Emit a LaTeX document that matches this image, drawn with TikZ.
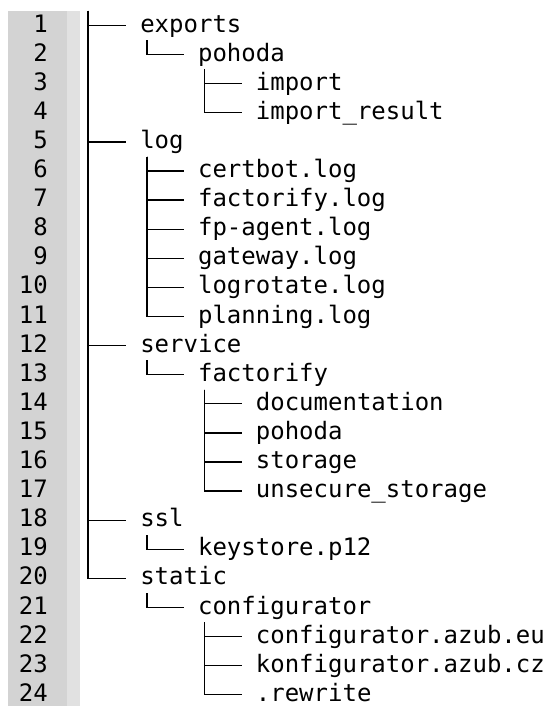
\documentclass[tikz,border=0pt]{standalone}
\usepackage{fontspec}
\setmonofont{DejaVu Sans Mono}
\usetikzlibrary{positioning}
\definecolor{gutter}{HTML}{D3D3D3}
\definecolor{gutterlight}{HTML}{E1E1E1}
\tikzset{entry/.style={anchor=west, inner xsep=10.5pt, inner ysep=0pt, text height=15.8pt, text depth=6pt, font=\ttfamily\fontsize{18}{22}\selectfont},
  lnum/.style={anchor=east, inner sep=0pt, text height=15.8pt, text depth=6pt, font=\ttfamily\fontsize{18}{22}\selectfont},
  branch/.style={draw, line width=1pt}}
\newcommand\subtree[2]{\foreach \c in {#2} \draw[branch] ([xshift=15.75pt]#1.south west) |- (\c.west);}

\begin{document}
\begin{tikzpicture}[x=0.75pt, y=-0.75pt]
\useasboundingbox (0,0) rectangle (549,706);
\fill[gutter] (8,11) rectangle (67,706);
\fill[gutterlight] (67,11) rectangle (80,706);
% line numbers
\foreach \n in {1,...,24}
  \node[lnum] (num\n) at (48, {25.5+29.1*(\n-1)}) {\n};
% tree entries: row/level/name/text
\foreach \n/\lev/\nm/\txt in {1/1/exports/exports, 2/2/pohoda/pohoda, 3/3/import/import, 4/3/importresult/import\_result,
  5/1/log/log, 6/2/certbot/certbot.log, 7/2/factorifylog/factorify.log, 8/2/fpagent/fp-agent.log,
  9/2/gateway/gateway.log, 10/2/logrotate/logrotate.log, 11/2/planning/planning.log,
  12/1/service/service, 13/2/factorify/factorify, 14/3/documentation/documentation, 15/3/pohodasrv/pohoda,
  16/3/storage/storage, 17/3/unsecure/unsecure\_storage,
  18/1/ssl/ssl, 19/2/keystore/keystore.p12,
  20/1/static/static, 21/2/configurator/configurator, 22/3/cfgeu/configurator.azub.eu,
  23/3/cfgcz/konfigurator.azub.cz, 24/3/rewrite/.rewrite}
  \node[entry] (\nm) at ({126+57.8*(\lev-1)}, {25.5+29.1*(\n-1)}) {\txt};
\coordinate (top) at (88,11);
\foreach \c in {exports,log,service,ssl,static}
  \draw[branch] (top) |- (\c.west);
\subtree{exports}{pohoda}
\subtree{pohoda}{import,importresult}
\subtree{log}{certbot,factorifylog,fpagent,gateway,logrotate,planning}
\subtree{service}{factorify}
\subtree{factorify}{documentation,pohodasrv,storage,unsecure}
\subtree{ssl}{keystore}
\subtree{static}{configurator}
\subtree{configurator}{cfgeu,cfgcz,rewrite}
\end{tikzpicture}
\end{document}
